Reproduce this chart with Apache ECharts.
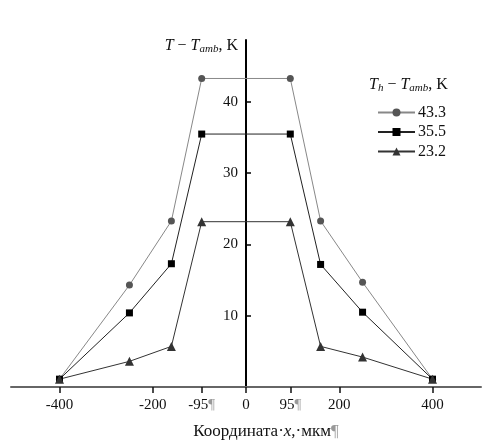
<!DOCTYPE html>
<html>
<head>
<meta charset="utf-8">
<script src="https://cdn.jsdelivr.net/npm/echarts@6/dist/echarts.min.js"></script>
<style>html,body{margin:0;padding:0;background:#fff}#c{width:489px;height:448px}</style>
</head>
<body>
<div id="c"></div>
<script>
const xCoords = [-400, -250, -160, -95, 95, 160, 250, 400];
const seriesNames = ['43.3', '35.5', '23.2'];
const valuesHigh = [1.1, 14.3, 23.3, 43.3, 43.3, 23.3, 14.7, 1.1];
const valuesMid  = [1.1, 10.4, 17.3, 35.5, 35.5, 17.2, 10.5, 1.1];
const valuesLow  = [1.1, 3.6, 5.7, 23.2, 23.2, 5.7, 4.2, 1.1];
const xTickValues = [-400, -200, -95, 0, 95, 200, 400];
const xTickLabels = ['-400', '-200', '-95', '0', '95', '200', '400'];
const yTickValues = [10, 20, 30, 40];

const FONT = 'Liberation Serif';
const chart = echarts.init(document.getElementById('c'), null, {renderer: 'canvas'});
const pair = v => xCoords.map((x, i) => [x, v[i]]);

chart.setOption({
  backgroundColor: '#fff',
  animation: false,
  textStyle: {fontFamily: FONT},
  title: {
    left: 364, top: 71,
    text: '{i|T}{sub|h} − {i|T}{sub|amb}, K',
    textStyle: {
      fontFamily: FONT, fontSize: 16, fontWeight: 'normal', color: '#111',
      rich: {
        i: {fontFamily: FONT, fontStyle: 'italic', fontSize: 16, color: '#111'},
        sub: {fontFamily: FONT, fontStyle: 'italic', fontSize: 11, color: '#111', padding: [7, 0, 0, 0]}
      }
    }
  },
  legend: {
    left: 372, top: 99.5, orient: 'vertical',
    itemWidth: 37, itemHeight: 10, itemGap: 3.5,
    textStyle: {fontFamily: FONT, fontSize: 16, color: '#111', padding: [0, 0, 0, -2]},
    data: seriesNames
  },
  grid: {left: 11, right: 8, top: 40, bottom: 61, outerBoundsMode: 'none', containLabel: false},
  xAxis: {
    type: 'value', min: -504, max: 504,
    name: 'Координата·{i|x},·мкм{p|¶}',
    nameLocation: 'middle', nameGap: 36,
    nameTextStyle: {
      fontFamily: FONT, fontSize: 17, color: '#111', padding: [0, 0, 0, 40],
      rich: {
        i: {fontFamily: FONT, fontStyle: 'italic', fontSize: 17, color: '#111'},
        p: {fontFamily: FONT, fontSize: 17, color: '#999'}
      }
    },
    axisLine: {onZero: true, lineStyle: {color: '#666', width: 2}},
    axisTick: {show: true, inside: false, length: 6, customValues: xTickValues, lineStyle: {color: '#111', width: 1.5}},
    axisLabel: {
      customValues: xTickValues, margin: 11, fontFamily: FONT, fontSize: 15, color: '#111',
      formatter: v => {
        const idx = xTickValues.indexOf(v);
        const t = idx >= 0 ? xTickLabels[idx] : String(v);
        return (v === -95 || v === 95) ? t + '{p|¶}' : t;
      },
      rich: {p: {fontFamily: FONT, fontSize: 15, color: '#999'}}
    },
    splitLine: {show: false}
  },
  yAxis: {
    type: 'value', min: 0, max: 48.7,
    position: 'left', offset: -235,
    name: '{i|T} − {i|T}{sub|amb}, K',
    nameLocation: 'end', nameGap: -6,
    nameTextStyle: {
      fontFamily: FONT, fontSize: 16, color: '#111', align: 'right', verticalAlign: 'middle',
      padding: [0, 8, 0, 0],
      rich: {
        i: {fontFamily: FONT, fontStyle: 'italic', fontSize: 16, color: '#111'},
        sub: {fontFamily: FONT, fontStyle: 'italic', fontSize: 11, color: '#111', padding: [7, 0, 0, 0]}
      }
    },
    axisLine: {onZero: false, lineStyle: {color: '#000', width: 2}},
    axisTick: {show: true, inside: true, length: 5, customValues: yTickValues, lineStyle: {color: '#000', width: 1.5}},
    axisLabel: {customValues: yTickValues, margin: 8, fontFamily: FONT, fontSize: 15, color: '#111'},
    splitLine: {show: false}
  },
  series: [{
    name: seriesNames[0], type: 'line', data: pair(valuesHigh),
    symbol: 'circle', symbolSize: 7,
    itemStyle: {color: '#555'}, lineStyle: {color: '#888', width: 1}
  }, {
    name: seriesNames[1], type: 'line', data: pair(valuesMid),
    symbol: 'rect', symbolSize: 7,
    itemStyle: {color: '#000'}, lineStyle: {color: '#222', width: 1}
  }, {
    name: seriesNames[2], type: 'line', data: pair(valuesLow),
    symbol: 'triangle', symbolSize: 9,
    itemStyle: {color: '#333'}, lineStyle: {color: '#333', width: 1}
  }]
});
</script>
</body>
</html>
